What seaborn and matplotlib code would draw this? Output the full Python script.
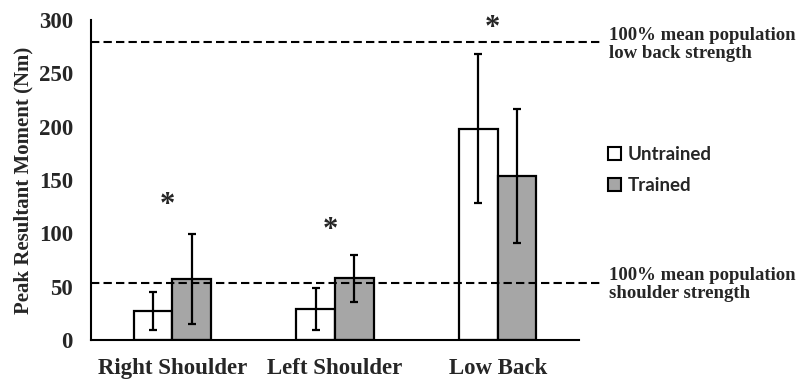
import matplotlib
matplotlib.use('Agg')
import matplotlib.pyplot as plt
import matplotlib.patches as mpatches
import pandas as pd
import seaborn as sns

# DATA ------------
regions = ['Right Shoulder', 'Left Shoulder', 'Low Back']
groups = ['Untrained', 'Trained']
untrained_mean = [27, 29, 198]
untrained_sd = [18, 20, 70]
trained_mean = [57, 58, 154]
trained_sd = [42, 22, 63]
star_height = [126, 103, 292]          # where the significance stars sit
shoulder_ref = 53                      # 100% mean population shoulder strength
low_back_ref = 279                     # 100% mean population low back strength

TRAINED_GRAY = '#a6a6a6'
SERIF = ['Liberation Serif', 'DejaVu Serif']

df = pd.DataFrame({
    'region': regions * 2,
    'group': [groups[0]] * 3 + [groups[1]] * 3,
    'value': untrained_mean + trained_mean,
    'sd': untrained_sd + trained_sd,
})

sns.set_style('white')
plt.rcParams['font.family'] = SERIF

fig = plt.figure(figsize=(7.98, 3.81), dpi=100)
ax = fig.add_axes([0.114, 0.1076, 0.6116, 0.84])

bars = sns.barplot(data=df, x='region', y='value', hue='group', order=regions,
                   hue_order=groups, palette=['white', TRAINED_GRAY],
                   width=0.475, errorbar=None, edgecolor='black', linewidth=1.6,
                   legend=False, ax=ax, zorder=2)

# error bars on top of each bar
for patch, (_, row) in zip(bars.patches, df.iterrows()):
    xc = patch.get_x() + patch.get_width() / 2
    ax.errorbar(xc, row['value'], yerr=row['sd'], color='black', elinewidth=1.6,
                capsize=3, capthick=1.6, zorder=3)

# reference lines, drawn over the bars and running a little past the axes
for ref in (shoulder_ref, low_back_ref):
    ax.axhline(ref, xmin=0, xmax=1.043, color='black', linestyle=(0, (4, 2)),
               linewidth=1.5, clip_on=False, zorder=4)

ax.text(1.062, low_back_ref - 2, '100% mean population\nlow back strength',
        transform=ax.get_yaxis_transform(), ha='left', va='center',
        fontsize=13.5, fontweight='bold', linespacing=1.12)
ax.text(1.062, shoulder_ref - 1, '100% mean population\nshoulder strength',
        transform=ax.get_yaxis_transform(), ha='left', va='center',
        fontsize=13.5, fontweight='bold', linespacing=1.12)

# significance stars
for i, h in enumerate(star_height):
    ax.text(i - 0.03, h, '*', ha='center', va='center', fontsize=22,
            fontweight='bold')

ax.set_xlim(-0.5, 2.5)
ax.set_ylim(0, 300)
ax.set_yticks(range(0, 301, 50))
ax.set_xlabel('')
ax.set_ylabel('Peak Resultant Moment (Nm)', fontsize=15, fontweight='bold',
              labelpad=4)
ax.tick_params(axis='both', length=0, labelsize=16.5)
ax.tick_params(axis='y', pad=13)
ax.tick_params(axis='x', pad=13)
for lab in ax.get_xticklabels() + ax.get_yticklabels():
    lab.set_fontweight('bold')

sns.despine(ax=ax)
for side in ('left', 'bottom'):
    ax.spines[side].set_color('black')
    ax.spines[side].set_linewidth(1.5)

# Legend
handles = [mpatches.Patch(facecolor='white', edgecolor='black', linewidth=1.5, label='Untrained'),
           mpatches.Patch(facecolor=TRAINED_GRAY, edgecolor='black', linewidth=1.5, label='Trained')]
ax.legend(handles=handles, loc='center left', bbox_to_anchor=(1.025, 0.53),
          frameon=False, handlelength=0.7, handleheight=0.7, handletextpad=0.35,
          labelspacing=0.75, prop={'family': 'Lato', 'weight': 'bold', 'size': 13.5})

fig.savefig('out.png', dpi=100)
